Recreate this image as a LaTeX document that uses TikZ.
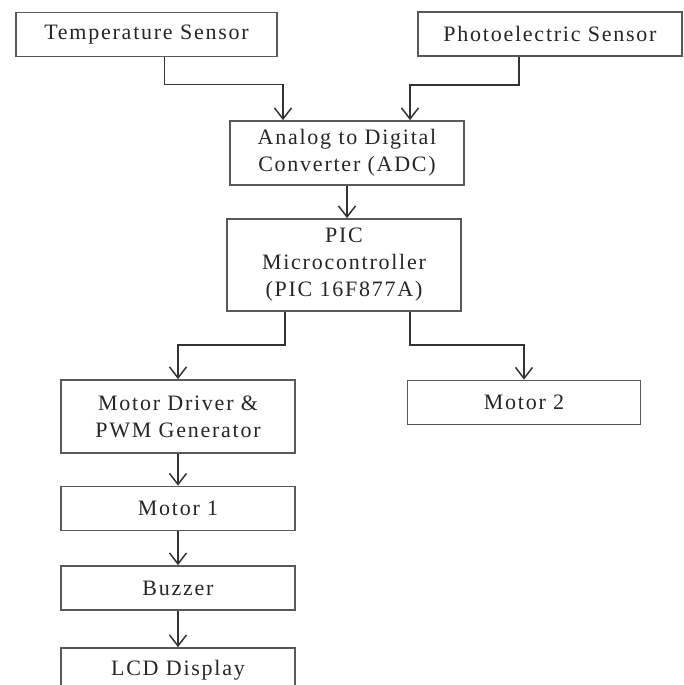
\documentclass[tikz,border=0pt]{standalone}
\usepackage{fontspec}
\setmainfont{Liberation Serif}[LetterSpace=8]
\usetikzlibrary{arrows.meta}

\begin{document}
\begin{tikzpicture}[x=1pt, y=-1pt,
  block/.style={draw=black!65, line width=1.7pt, fill=white, align=center,
    text=black!85, font=\fontsize{22}{27}\selectfont, inner sep=0pt},
  link/.style={draw=black!80, line width=1.5pt,
    -{Straight Barb[length=11pt, width=17pt, line width=1.5pt]}}]
\clip (0,0) rectangle (684,685);
\fill[white] (0,0) rectangle (684,685);

\def\bw{234pt};
\def\bh{44pt};

\node[block, minimum width=261pt, minimum height=\bh] (temp) at (146.5,34.5) {Temperature Sensor};
\node[block, minimum width=264pt, minimum height=\bh] (photo) at (550,34) {Photoelectric Sensor};

\node[block, minimum width=\bw, minimum height=64pt] (adc) at (347,153) {Analog to Digital\\Converter (ADC)};
\node[block, minimum width=\bw, minimum height=92pt] (pic) at (344,265) {PIC\\Microcontroller\\(PIC 16F877A)};

\node[block, minimum width=\bw, minimum height=73pt] (driver) at (178,416.5) {Motor Driver \&\\PWM Generator};
\node[block, minimum width=233pt, minimum height=\bh] (mtwo) at (524,402.5) {Motor 2};
\node[block, minimum width=\bw, minimum height=\bh] (mone) at (178,508.5) {Motor 1};
\node[block, minimum width=\bw, minimum height=\bh] (buzzer) at (178,588) {Buzzer};
\node[block, minimum width=\bw, minimum height=\bh] (lcd) at (178,670) {LCD Display};

\draw[link] ([xshift=18pt]temp.south) -- ++(0,27) -| ([xshift=-64pt]adc.north);
\draw[link] ([xshift=-31pt]photo.south) -- ++(0,28) -| ([xshift=63pt]adc.north);
\draw[link] (adc.south) -- (adc.south |- pic.north);

\draw[link] ([xshift=-59pt]pic.south) -- ++(0,33) -| (driver.north);
\draw[link] ([xshift=66pt]pic.south) -- ++(0,33) -| (mtwo.north);

\draw[link] (driver.south) -- (mone.north);
\draw[link] (mone.south) -- (buzzer.north);
\draw[link] (buzzer.south) -- (lcd.north);
\end{tikzpicture}
\end{document}
